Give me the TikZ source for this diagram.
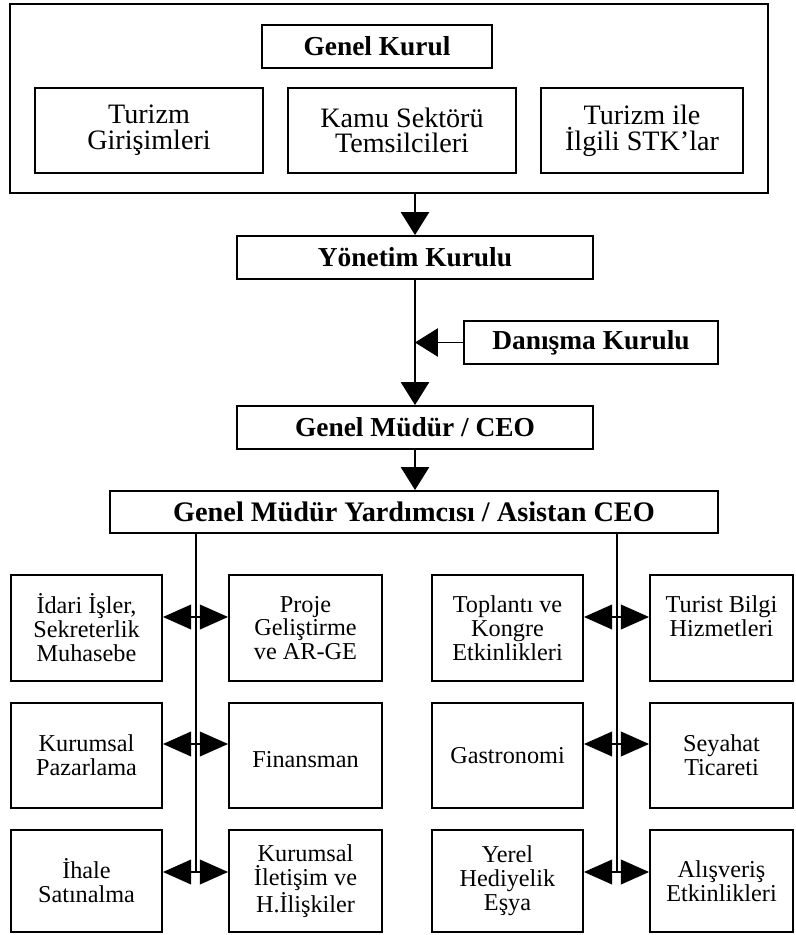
\documentclass[tikz,border=0pt]{standalone}
\usepackage{fontspec}
\setmainfont{Liberation Serif}
\usetikzlibrary{positioning,arrows.meta}

\begin{document}
\begin{tikzpicture}[x=0.02cm, y=-0.02cm,
    frame/.style={rectangle, draw, line width=1.1pt, inner sep=0pt},
    board/.style={rectangle, draw, line width=1.1pt, inner sep=0pt,
        minimum height=0.86cm, align=center,
        font=\fontsize{15.6}{17}\selectfont\bfseries},
    member/.style={rectangle, draw, line width=1.1pt, inner sep=0pt,
        minimum height=1.7cm, align=center,
        font=\fontsize{16}{14.6}\selectfont},
    unit/.style={rectangle, draw, line width=1.1pt, inner sep=0pt,
        align=center, font=\fontsize{13.8}{13.6}\selectfont},
    flow/.style={-{Triangle[length=13pt,width=16pt]}, line width=1pt},
    link/.style={{Triangle[length=16pt,width=14pt]}-{Triangle[length=16pt,width=14pt]}, line width=1pt},
    bus/.style={line width=1.1pt}
]
\useasboundingbox (0,0) rectangle (795,935);

% General assembly
\node[frame, minimum width=15.16cm, minimum height=3.78cm] (assembly) at (389,98.5) {};
\node[board, minimum width=4.6cm] (genelkurul) at (377,46.5) {Genel Kurul};
\node[member, minimum width=4.56cm] (girisim) at (149,130.5) {Turizm\\Girişimleri};
\node[member, minimum width=4.56cm] (kamu) at (402,130.5) {Kamu Sektörü\\Temsilcileri};
\node[member, minimum width=4.04cm] (stk) at (642,130.5) {Turizm ile\\İlgili STK’lar};

% Management chain
\node[board, minimum width=7.12cm] (yonetim) at (415,257.5) {Yönetim Kurulu};
\node[board, minimum width=5.08cm] (danisma) at (591,342.5) {Danışma Kurulu};
\node[board, minimum width=7.12cm] (gm) at (415,427.5) {Genel Müdür / CEO};
\node[board, minimum width=12.16cm, minimum height=0.84cm,
    font=\fontsize{16.1}{17}\selectfont\bfseries] (gmy) at (414,512) {Genel Müdür Yardımcısı / Asistan CEO};

% Departments, left group
\node[unit, minimum width=3.02cm, minimum height=2.12cm] (idari) at (86.5,628) {İdari İşler,\\Sekreterlik\\Muhasebe};
\node[unit, minimum width=3.06cm, minimum height=2.12cm] (proje) at (305.5,628) {Proje\\Geliştirme\\ve AR-GE};
\node[unit, minimum width=3.02cm, minimum height=2.1cm] (pazarlama) at (86.5,755.5) {Kurumsal\\Pazarlama};
\node[unit, minimum width=3.06cm, minimum height=2.1cm] (finans) at (305.5,755.5) {\mbox{}\\Finansman};
\node[unit, minimum width=3.02cm, minimum height=2.04cm] (ihale) at (86.5,881) {İhale\\Satınalma};
\node[unit, minimum width=3.06cm, minimum height=2.04cm] (iletisim) at (305.5,881) {Kurumsal\\İletişim ve\\H.İlişkiler};

% Departments, right group
\node[unit, minimum width=3.02cm, minimum height=2.12cm] (kongre) at (507.5,628) {Toplantı ve\\Kongre\\Etkinlikleri};
\node[unit, minimum width=2.86cm, minimum height=2.12cm] (bilgi) at (721.5,628) {Turist Bilgi\\Hizmetleri\\\mbox{}};
\node[unit, minimum width=3.02cm, minimum height=2.1cm] (gastro) at (507.5,755.5) {Gastronomi};
\node[unit, minimum width=2.86cm, minimum height=2.1cm] (seyahat) at (721.5,755.5) {Seyahat\\Ticareti};
\node[unit, minimum width=3.02cm, minimum height=2.04cm] (hediye) at (507.5,881) {Yerel\\Hediyelik\\Eşya};
\node[unit, minimum width=2.86cm, minimum height=2.04cm] (alisveris) at (721.5,881) {Alışveriş\\Etkinlikleri};

% Arrow levels and bus ends
\coordinate (row1) at (0,617);
\coordinate (row2) at (0,744);
\coordinate (row3) at (0,872);
\coordinate (lbus) at (196,872);
\coordinate (rbus) at (617,872);

% Arrows
\draw[flow] (assembly.south -| yonetim.north) -- (yonetim.north);
\draw[flow] (yonetim) -- (gm);
\draw[flow] (danisma.west) -- (danisma.west -| yonetim.south);
\draw[flow] (gm.south) -- (gm.south |- gmy.north);
\draw[bus] (gmy.south -| lbus) -- (lbus);
\draw[bus] (gmy.south -| rbus) -- (rbus);
\draw[link] (idari.east |- row1) -- (proje.west |- row1);
\draw[link] (pazarlama.east |- row2) -- (finans.west |- row2);
\draw[link] (ihale.east |- row3) -- (iletisim.west |- row3);
\draw[link] (kongre.east |- row1) -- (bilgi.west |- row1);
\draw[link] (gastro.east |- row2) -- (seyahat.west |- row2);
\draw[link] (hediye.east |- row3) -- (alisveris.west |- row3);

\end{tikzpicture}
\end{document}
